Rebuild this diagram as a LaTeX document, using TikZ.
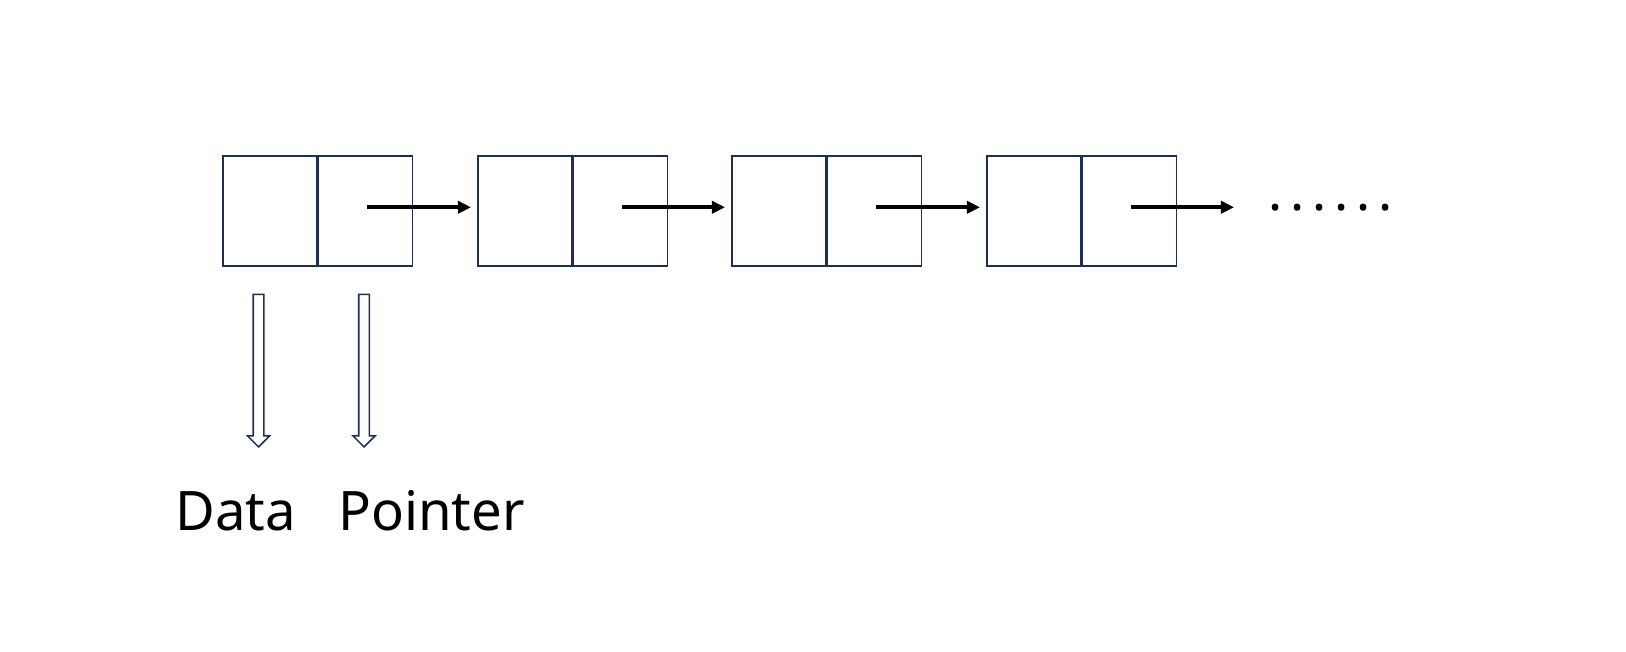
\documentclass[tikz,border=0pt]{standalone}
\usepackage{fontspec}
\setmainfont{Noto Sans}
\usetikzlibrary{positioning, shapes.arrows, arrows.meta}
\definecolor{CellNavy}{RGB}{31, 47, 84}

\begin{document}
\begin{tikzpicture}[x=0.02cm, y=-0.02cm,
            cell/.style={draw=CellNavy, line width=0.9pt, minimum width=1.88cm,
                         minimum height=2.2cm, inner sep=0pt},
            link/.style={line width=2.2pt, -{Triangle[length=7.5pt, width=7pt]},
                         shorten >=0.12cm},
            hollow/.style={single arrow, draw=CellNavy, line width=0.9pt,
                           minimum height=3.05cm, inner sep=0.09cm,
                           single arrow head extend=0.115cm, rotate=-90},
            label/.style={font=\fontsize{31}{37}\selectfont, anchor=base west,
                          inner sep=0pt}
        ]
            \useasboundingbox (0, 0) rectangle (1626, 652);

            % list elements
            \foreach \i/\x in {1/222, 2/477, 3/731, 4/986} {
                \node[cell, anchor=north west] (d\i) at (\x, 155) {};
                \node[cell, right=0pt of d\i] (p\i) {};
            }
            \node[font=\fontsize{30}{36}\selectfont\bfseries, anchor=base west,
                  inner sep=0pt] (more)
                at (1268, 210) {.\kern4.5pt.\kern4.5pt.\kern4.5pt.\kern4.5pt.\kern4.5pt.};

            \draw[link] ([shift={(0.04cm,0.07cm)}]p1.center) -- ([yshift=0.07cm]d2.west);
            \draw[link] ([shift={(0.04cm,0.07cm)}]p2.center) -- ([yshift=0.07cm]d3.west);
            \draw[link] ([shift={(0.04cm,0.07cm)}]p3.center) -- ([yshift=0.07cm]d4.west);
            \draw[link, shorten >=0.68cm] ([shift={(0.04cm,0.07cm)}]p4.center)
                -- ([yshift=0.07cm]more.west |- p4.center);

            % field labels
            \node[hollow] (hd) at (258.5, 368) {};
            \node[hollow] (hp) at (364, 368) {};
            \node[label] (data) at (175, 530) {Data};
            \node[label] (ptr) at (338, 530) {Pointer};
        \end{tikzpicture}
\end{document}
